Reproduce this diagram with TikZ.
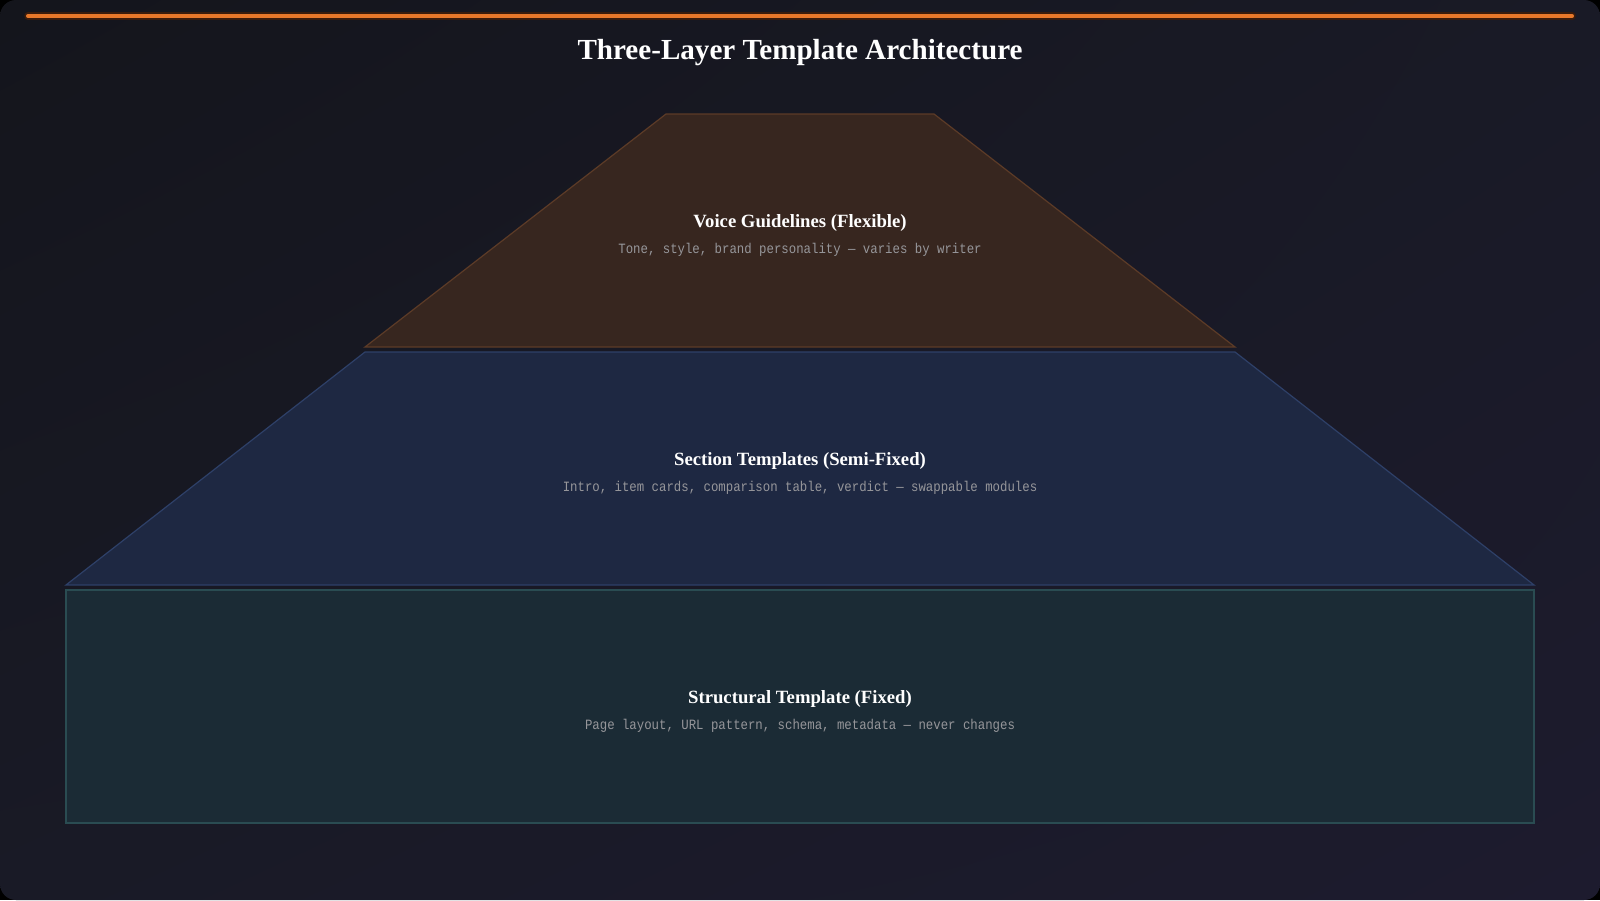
\documentclass[tikz,border=0pt]{standalone}
\usepackage{fontspec}
\usetikzlibrary{shadings}
\setmainfont{Liberation Serif}
\newfontfamily\monof[FakeStretch=0.87]{Liberation Mono}
\definecolor{bgA}{HTML}{14151C}
\definecolor{bgB}{HTML}{1D1B2E}
\definecolor{bgC}{HTML}{191A26}
\definecolor{accent}{HTML}{E8782A}
\definecolor{accentdark}{HTML}{3A1C0C}
\definecolor{voicefill}{HTML}{37261F}
\definecolor{voiceline}{HTML}{5C3B27}
\definecolor{secfill}{HTML}{1E2842}
\definecolor{secline}{HTML}{2E4068}
\definecolor{strfill}{HTML}{1B2B35}
\definecolor{strline}{HTML}{2A4C52}
\definecolor{subgray}{HTML}{96969A}
\tikzset{
  layertitle/.style={text=white, font=\fontsize{18.7}{22}\selectfont\bfseries, inner sep=0pt, anchor=base},
  layersub/.style={text=subgray, font=\monof\fontsize{14.2}{17}\selectfont, inner sep=0pt, anchor=base},
  layershape/.style={line width=1.2pt, line join=miter}
}
\begin{document}
\begin{tikzpicture}[x=1pt,y=-1pt]
\useasboundingbox (0,0) rectangle (1600,900);
\fill[black] (0,0) rectangle (1600,900);
\shade[rounded corners=16pt, upper left=bgA, lower left=bgC, upper right=bgC, lower right=bgB] (0,0) rectangle (1600,900);
% accent line
\coordinate (acL) at (28,16);
\coordinate (acR) at (1572,16);
\draw[accentdark, line width=7.5pt, line cap=round] (acL) -- (acR);
\draw[accent, line width=4pt, line cap=round] (acL) -- (acR);
% title
\node[text=white, font=\fontsize{29.1}{35}\selectfont\bfseries, inner sep=0pt, anchor=base] (title) at (800,59) {Three-Layer Template Architecture};
% layer 1 voice
\coordinate (v1) at (666,114);
\coordinate (v2) at (934,114);
\coordinate (v3) at (1235,347);
\coordinate (v4) at (365,347);
\filldraw[layershape, fill=voicefill, draw=voiceline] (v1) -- (v2) -- (v3) -- (v4) -- cycle;
\node[layertitle] (voiceT) at (800,227) {Voice Guidelines (Flexible)};
\node[layersub] (voiceS) at (800,253) {Tone, style, brand personality — varies by writer};
% layer 2 section
\coordinate (s1) at (365,352);
\coordinate (s2) at (1235,352);
\coordinate (s3) at (1534,585);
\coordinate (s4) at (66,585);
\filldraw[layershape, fill=secfill, draw=secline] (s1) -- (s2) -- (s3) -- (s4) -- cycle;
\node[layertitle] (secT) at (800,465) {Section Templates (Semi-Fixed)};
\node[layersub] (secS) at (800,491) {Intro, item cards, comparison table, verdict — swappable modules};
% layer 3 structural
\coordinate (b1) at (66,590);
\coordinate (b2) at (1534,823);
\filldraw[layershape, fill=strfill, draw=strline] (b1) rectangle (b2);
\node[layertitle] (strT) at (800,703) {Structural Template (Fixed)};
\node[layersub] (strS) at (800,729) {Page layout, URL pattern, schema, metadata — never changes};
\end{tikzpicture}
\end{document}
